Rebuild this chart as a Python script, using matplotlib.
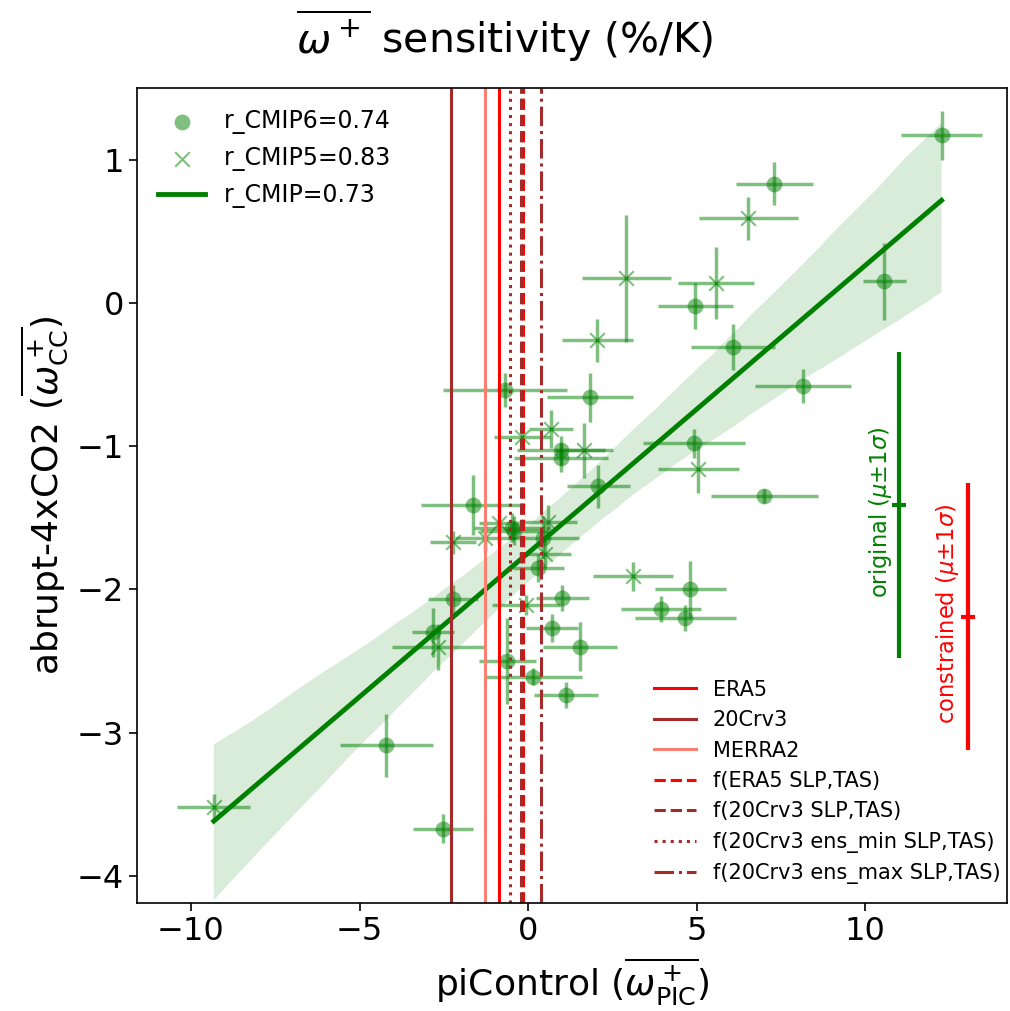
import numpy as np
import matplotlib
matplotlib.use("Agg")
import matplotlib.pyplot as plt
import seaborn as sns
from matplotlib.lines import Line2D

# CMIP6 models: piControl sensitivity (x), abrupt-4xCO2 sensitivity (y) and their spread
cmip6_x = [12.26, 7.30, 10.56, 4.96, 6.08, 8.16, 1.84, 4.93, 2.08, 7.00, 0.98, 0.98,
           -0.68, -1.63, -0.47, -0.42, 0.45, 0.30, -2.23, 1.01, 0.71, 1.54, -2.82,
           -0.62, 0.15, 1.13, -4.21, -2.52, 3.95, 4.81, 4.66]
cmip6_y = [1.17, 0.83, 0.15, -0.02, -0.31, -0.58, -0.66, -0.98, -1.28, -1.35, -1.03, -1.08,
           -0.61, -1.41, -1.57, -1.59, -1.64, -1.85, -2.07, -2.06, -2.27, -2.40, -2.30,
           -2.50, -2.61, -2.74, -3.09, -3.67, -2.14, -2.00, -2.20]
cmip6_xerr = [1.19, 1.14, 0.64, 1.11, 1.25, 1.42, 1.27, 1.51, 0.93, 1.59, 1.30, 1.40,
              1.84, 1.54, 1.14, 1.00, 1.05, 0.75, 0.74, 0.79, 0.76, 1.10, 0.61,
              0.85, 1.44, 0.95, 1.38, 0.88, 1.19, 1.05, 1.50]
cmip6_yerr = [0.17, 0.15, 0.27, 0.16, 0.16, 0.12, 0.17, 0.10, 0.15, 0.05, 0.10, 0.10,
              0.12, 0.21, 0.10, 0.10, 0.15, 0.10, 0.10, 0.09, 0.10, 0.17, 0.17,
              0.30, 0.06, 0.09, 0.22, 0.10, 0.09, 0.20, 0.09]

# CMIP5 models
cmip5_x = [6.53, 2.91, 5.58, 2.05, 1.66, 5.04, 3.12, -0.18, 0.68, -2.23, -1.28, -0.86,
           0.59, 0.50, -0.06, -2.67, -9.32]
cmip5_y = [0.59, 0.17, 0.14, -0.26, -1.03, -1.16, -1.91, -0.94, -0.88, -1.67, -1.64, -1.54,
           -1.53, -1.75, -2.11, -2.40, -3.52]
cmip5_xerr = [1.47, 1.32, 1.13, 1.05, 0.85, 1.20, 1.19, 0.82, 0.64, 0.67, 0.90, 0.60,
              0.85, 0.77, 1.01, 1.38, 1.08]
cmip5_yerr = [0.15, 0.44, 0.25, 0.15, 0.19, 0.17, 0.10, 0.08, 0.13, 0.08, 0.10, 0.15,
              0.12, 0.10, 0.07, 0.16, 0.09]

r_cmip6, r_cmip5, r_cmip = 0.74, 0.83, 0.73

# observational / reanalysis estimates of piControl sensitivity
obs_names = ["ERA5", "20Crv3", "MERRA2", "f(ERA5 SLP,TAS)", "f(20Crv3 SLP,TAS)",
             "f(20Crv3 ens_min SLP,TAS)", "f(20Crv3 ens_max SLP,TAS)"]
obs_x = [-0.87, -2.28, -1.27, -0.15, -0.20, -0.55, 0.38]
obs_colors = ["red", "brown", "salmon", "red", "brown", "brown", "brown"]
obs_styles = ["-", "-", "-", "--", "--", ":", "-."]

# original vs constrained abrupt-4xCO2 distribution
orig_mean, orig_std = -1.41, 1.07
cons_mean, cons_std = -2.19, 0.935

fig = plt.figure(figsize=(10.1, 10.11), dpi=100)
ax = fig.add_axes([0.1356, 0.1068, 0.8614, 0.8062])

err_kw = dict(fmt="none", ecolor="green", alpha=0.5, elinewidth=2.5)
ax.errorbar(cmip6_x, cmip6_y, xerr=cmip6_xerr, yerr=cmip6_yerr, **err_kw)
ax.errorbar(cmip5_x, cmip5_y, xerr=cmip5_xerr, yerr=cmip5_yerr, **err_kw)
h6 = ax.scatter(cmip6_x, cmip6_y, marker="o", s=130, color="green", alpha=0.5,
                linewidths=0, label=f"r_CMIP6={r_cmip6}")
h5 = ax.scatter(cmip5_x, cmip5_y, marker="x", s=110, color="green", alpha=0.5,
                linewidths=1.5, label=f"r_CMIP5={r_cmip5}")

all_x = np.array(cmip6_x + cmip5_x)
all_y = np.array(cmip6_y + cmip5_y)
sns.regplot(x=all_x, y=all_y, scatter=False, color="green", ax=ax, seed=3,
            line_kws={"lw": 3.5})
hl = Line2D([], [], color="green", lw=3.5, label=f"r_CMIP={r_cmip}")

vl = []
for name, xv, c, ls in zip(obs_names, obs_x, obs_colors, obs_styles):
    vl.append(ax.axvline(xv, color=c, ls=ls, lw=2.2, label=name))

# spread bars on the right
ax.errorbar([11.0], [orig_mean], yerr=[orig_std], color="green", marker="_",
            ms=10, mew=3, elinewidth=3, capsize=0)
ax.errorbar([13.03], [cons_mean], yerr=[cons_std], color="red", marker="_",
            ms=10, mew=3, elinewidth=3, capsize=0)
ax.text(10.45, orig_mean - 0.05, r"original ($\mu$±1$\sigma$)", color="green",
        rotation=90, ha="center", va="center", fontsize=16.3)
ax.text(12.43, cons_mean + 0.02, r"constrained ($\mu$±1$\sigma$)", color="red",
        rotation=90, ha="center", va="center", fontsize=16.3)

ax.set_xlim(-11.6, 14.2)
ax.set_ylim(-4.19, 1.50)
ax.set_xticks([-10, -5, 0, 5, 10])
ax.set_yticks([-4, -3, -2, -1, 0, 1])
ax.tick_params(labelsize=23, length=6, width=1.2)
for sp in ax.spines.values():
    sp.set_linewidth(1.2)

ax.set_xlabel(r"piControl ($\overline{\omega^+_{\rm PIC}}$)", fontsize=26, labelpad=6)
ax.set_ylabel(r"abrupt-4xCO2 ($\overline{\omega^+_{\rm CC}}$)", fontsize=26)
fig.text(0.5, 0.965, r"$\overline{\omega^+}$ sensitivity (%/K)", ha="center",
         va="center", fontsize=29.5)

leg1 = ax.legend(handles=[h6, h5, hl], loc="upper left", frameon=False, fontsize=17)
ax.add_artist(leg1)
ax.legend(handles=vl, loc="lower right", bbox_to_anchor=(1.014, 0.0),
          frameon=False, fontsize=15)

fig.savefig("out.png", dpi=100)
